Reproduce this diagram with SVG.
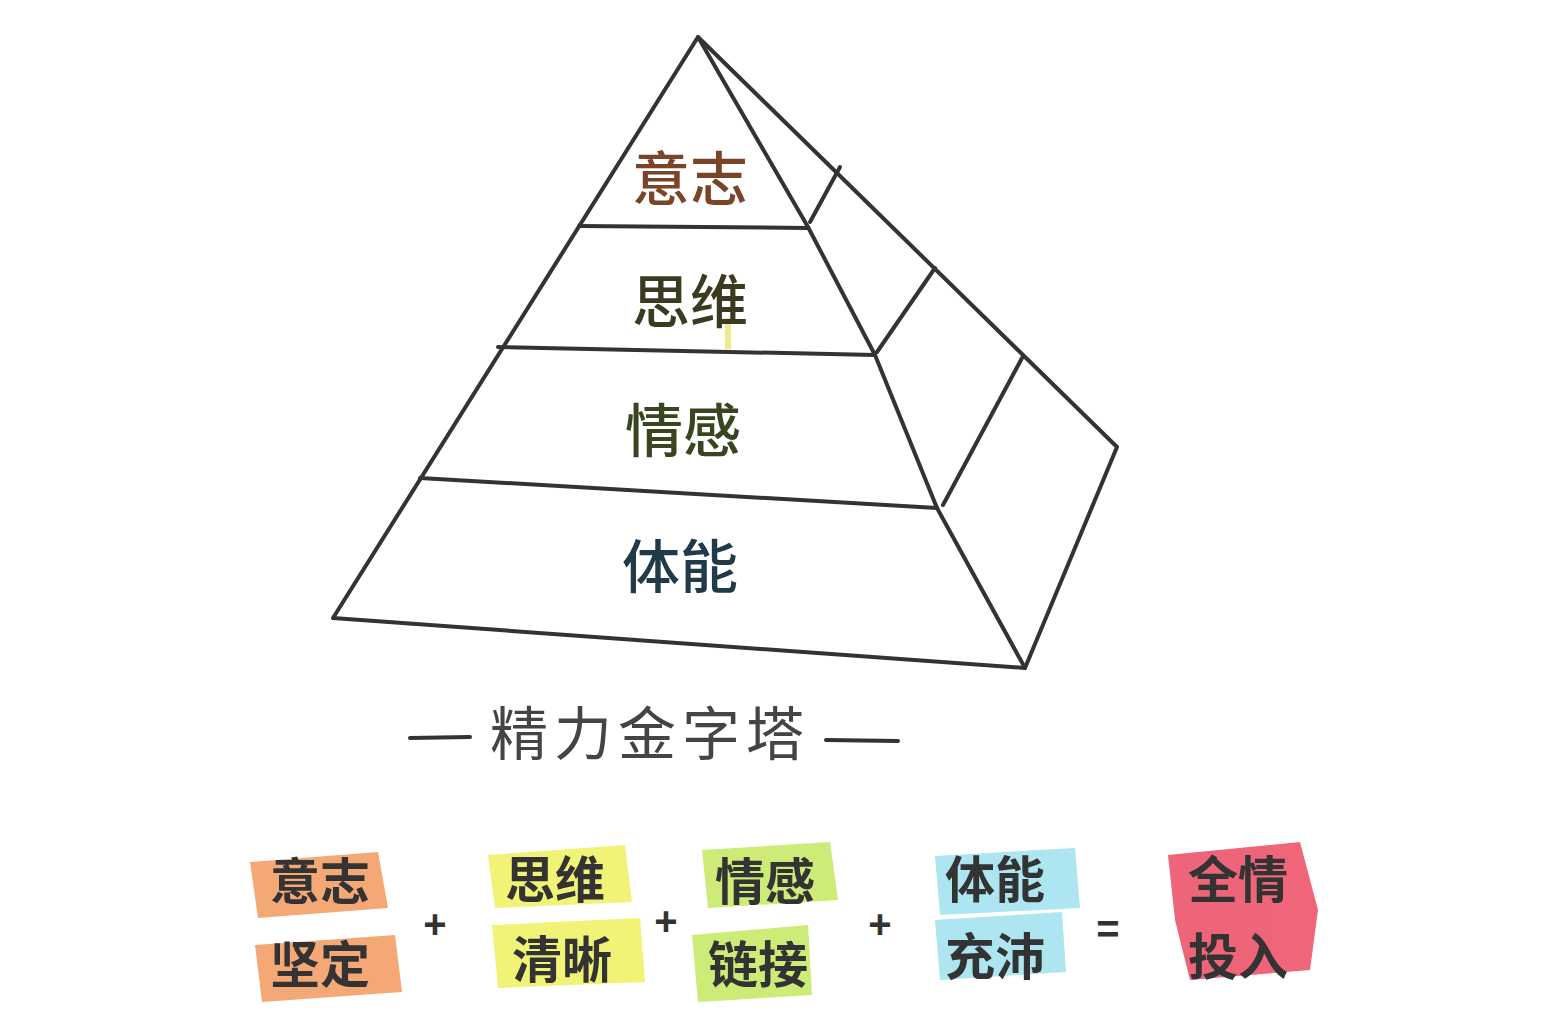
<svg xmlns="http://www.w3.org/2000/svg" width="1553" height="1024" viewBox="0 0 1553 1024">
<style>
.ln{fill:none;stroke:#333;stroke-width:4;stroke-linejoin:round;stroke-linecap:round}
.lbl{font-family:"Noto Sans CJK SC","Noto Sans",sans-serif;font-size:58px;text-anchor:middle;font-weight:500}
.eq{font-family:"Noto Sans CJK SC","Noto Sans",sans-serif;font-size:50px;fill:#333;text-anchor:middle;font-weight:bold}
.op{font-family:"Liberation Sans",sans-serif;font-size:40px;fill:#333;text-anchor:middle;font-weight:bold}
</style>
<rect width="1553" height="1024" fill="#fff"/>
<g id="pyramid">
<path class="ln" d="M698,37 L333,618 L1025,668 L1117,447 L698,37"/>
<path class="ln" d="M698,37 L808,227 L875,355 L937,508 L1025,668"/>
<path class="ln" d="M579,226 L808,228"/>
<path class="ln" d="M498,347 L875,355"/>
<path class="ln" d="M420,478 L937,508"/>
<path class="ln" d="M810,222 L840,167"/>
<path class="ln" d="M877,352 L935,268"/>
<path class="ln" d="M943,505 L1022,358"/>
</g>
<g id="layer-will"><text class="lbl" x="690" y="200" fill="#7a4428">意志</text></g>
<g id="layer-thinking"><line x1="728" y1="318" x2="728" y2="349" stroke="#e6e060" stroke-width="6" opacity="0.7"/><text class="lbl" x="690" y="323" fill="#3a3a20">思维</text></g>
<g id="layer-emotion"><text class="lbl" x="683" y="452" fill="#38451e">情感</text></g>
<g id="layer-physical"><text class="lbl" x="680" y="588" fill="#203a48">体能</text></g>
<g id="title">
<path class="ln" d="M410,738 L470,737 M826,740 L898,741" stroke="#444"/>
<text x="650" y="755" font-family="'Noto Sans CJK SC','Noto Sans',sans-serif" font-size="58" fill="#444" text-anchor="middle" letter-spacing="6">精力金字塔</text>
</g>
<g id="highlights" opacity="0.85">
<polygon points="250,862 378,852 388,908 258,918" fill="#f29a5e"/>
<polygon points="255,945 395,935 402,992 262,1002" fill="#f29a5e"/>
<polygon points="488,855 625,845 632,902 495,908" fill="#eef25e"/>
<polygon points="492,925 640,918 645,982 498,988" fill="#eef25e"/>
<polygon points="702,850 830,842 838,900 708,908" fill="#c4e860"/>
<polygon points="692,935 808,925 812,995 698,1002" fill="#c4e860"/>
<polygon points="935,856 1075,848 1080,908 940,915" fill="#9fe2ee"/>
<polygon points="935,920 1062,912 1066,972 940,980" fill="#9fe2ee"/>
<polygon points="1168,855 1300,842 1318,910 1310,970 1190,980 1175,920" fill="#ec4a62"/>
</g>
<g id="equation">
<text class="eq" x="320" y="900">意志</text>
<text class="eq" x="320" y="983">坚定</text>
<text class="op" x="435" y="938">+</text>
<text class="eq" x="555" y="898">思维</text>
<text class="eq" x="562" y="978">清晰</text>
<text class="op" x="666" y="935">+</text>
<text class="eq" x="765" y="900">情感</text>
<text class="eq" x="758" y="983">链接</text>
<text class="op" x="880" y="938">+</text>
<text class="eq" x="995" y="898">体能</text>
<text class="eq" x="995" y="975">充沛</text>
<text class="op" x="1108" y="943">=</text>
<text class="eq" x="1238" y="898">全情</text>
<text class="eq" x="1238" y="975">投入</text>
</g>
</svg>
